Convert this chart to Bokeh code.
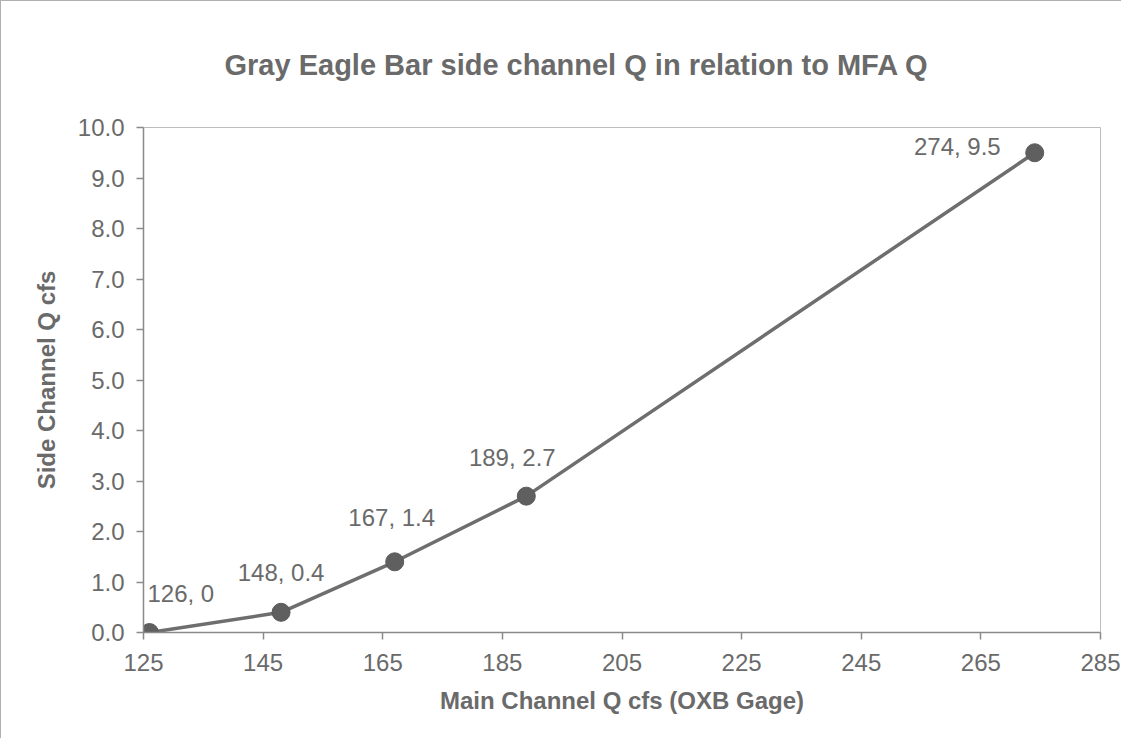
from bokeh.plotting import figure
from bokeh.models import ColumnDataSource, FixedTicker, PrintfTickFormatter, Range1d
from bokeh.core.properties import value
from bokeh.embed import file_html
from bokeh.resources import INLINE

# Data
main_q = [126, 148, 167, 189, 274]
side_q = [0.0, 0.4, 1.4, 2.7, 9.5]
point_labels = ["126, 0", "148, 0.4", "167, 1.4", "189, 2.7", "274, 9.5"]
x_ticks = [125, 145, 165, 185, 205, 225, 245, 265, 285]
y_ticks = [0, 1, 2, 3, 4, 5, 6, 7, 8, 9, 10]
title_text = "Gray Eagle Bar side channel Q in relation to MFA Q"

# label placement (styling)
lab_align = ["left", "center", "center", "center", "right"]
lab_dx = [-2, 0, -3, -14, -34]
lab_dy = [-39, -40, -44, -39, -6]

FONT = "Liberation Sans"
TXT = "#6a6a6a"
GRAY = "#6e6e6e"

p = figure(width=1121, height=738, output_backend="svg", toolbar_location=None,
           x_range=Range1d(125, 285), y_range=Range1d(0, 10),
           min_border_left=142, min_border_right=22, min_border_top=126,
           min_border_bottom=107, title=title_text)

p.styles = {"border-left": "1px solid #b0b0b0", "border-top": "1px solid #b0b0b0"}

p.title.text_font = FONT
p.title.text_font_size = "29px"
p.title.text_font_style = "bold"
p.title.text_color = TXT
p.title.align = "left"
p.title.offset = 81
p.title.vertical_align = "top"
p.title.standoff = 90

p.background_fill_color = "white"
p.border_fill_color = "white"
p.outline_line_color = "#bdbdbd"
p.outline_line_width = 1
p.grid.visible = False

for ax in (p.xaxis[0], p.yaxis[0]):
    ax.axis_line_color = "#8a8a8a"
    ax.axis_line_width = 1.5
    ax.major_tick_line_color = "#8a8a8a"
    ax.major_tick_line_width = 1.5
    ax.major_tick_out = 7
    ax.major_tick_in = 0
    ax.minor_tick_line_color = None
    ax.major_label_text_font = FONT
    ax.major_label_text_font_size = "24px"
    ax.major_label_text_color = TXT
    ax.axis_label_text_font = FONT
    ax.axis_label_text_font_size = "24px"
    ax.axis_label_text_font_style = "bold"
    ax.axis_label_text_color = TXT

p.xaxis.ticker = FixedTicker(ticks=x_ticks)
p.yaxis.ticker = FixedTicker(ticks=y_ticks)
p.yaxis.formatter = PrintfTickFormatter(format="%.1f")
p.xaxis.axis_label = "Main Channel Q cfs (OXB Gage)"
p.yaxis.axis_label = "Side Channel Q cfs"
p.xaxis.major_label_standoff = 14
p.yaxis.major_label_standoff = 12
p.xaxis.axis_label_standoff = 13
p.yaxis.axis_label_standoff = 15

src = ColumnDataSource(dict(x=main_q, y=side_q, lab=point_labels,
                            align=lab_align, dx=lab_dx, dy=lab_dy))

p.line("x", "y", source=src, line_color=GRAY, line_width=3.5)
p.scatter("x", "y", source=src, size=18, fill_color="#5f5f5f",
          line_color="#5a5a5a", line_width=1)
p.text("x", "y", text="lab", source=src, x_offset="dx", y_offset="dy",
       text_align="align", text_baseline="middle",
       text_font=value(FONT), text_font_size="24px", text_color=TXT)

open("out.html", "w").write(file_html(p, INLINE))
